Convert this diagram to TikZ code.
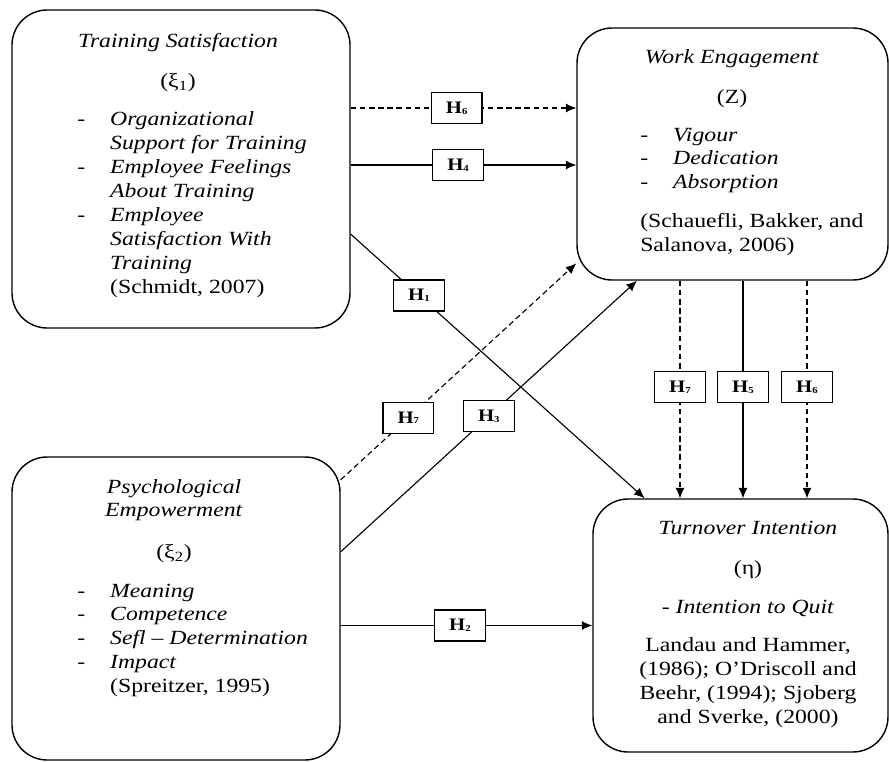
\documentclass[tikz,border=0pt]{standalone}
\usepackage{fontspec}
\setmainfont{Liberation Serif}[FakeStretch=1.18]
\usetikzlibrary{arrows.meta,fit,calc}

\newcommand{\hlab}[1]{\textbf{H}\raisebox{-.6pt}{\fontsize{6.5}{6.5}\selectfont\textbf{#1}}}

\tikzset{
  every node/.style={font=\fontsize{14.3}{17}\selectfont},
  txt/.style={inner sep=0pt},
  varbox/.style={draw,line width=1pt,rounded corners=25pt,inner sep=0pt},
  hbox/.style={draw,solid,fill=white,line width=.9pt,inner sep=0pt,
    minimum width=36pt,minimum height=22pt,font=\fontsize{12.5}{14}\selectfont},
  link/.style={line width=.8pt,-{Latex[length=7.5pt,width=6.5pt]}},
  dlink/.style={link,dash pattern=on 4pt off 2.5pt},
}

\begin{document}
\begin{tikzpicture}[x=0.025cm,y=-0.025cm]
\useasboundingbox (0,0) rectangle (889,762);

% the four variables
\node[varbox,fit={(12,10) (350,328)}] (ts) {};
\node[varbox,fit={(577,28) (888,280)}] (we) {};
\node[varbox,fit={(12,457) (340,760)}] (pe) {};
\node[varbox,fit={(593,499) (888,752)}] (ti) {};

% texts
\node[txt,anchor=base] (tshead) at (178,48) {\begin{tabular}[t]{@{}c@{}}
  \textit{Training Satisfaction}\\[11.4pt] (ξ\textsubscript{1})\end{tabular}};
\node[txt,anchor=base west] (tsbody) at (77,126) {\begin{tabular}[t]{@{}p{23.4pt}@{}l@{}}
  - & \textit{Organizational}\\
    & \textit{Support for Training}\\
  - & \textit{Employee Feelings}\\
    & \textit{About Training}\\
  - & \textit{Employee}\\
    & \textit{Satisfaction With}\\
    & \textit{Training}\\
    & (Schmidt, 2007)
  \end{tabular}};

\node[txt,anchor=base] (wehead) at (732,64) {\begin{tabular}[t]{@{}c@{}}
  \textit{Work Engagement}\\[11.4pt] (Z)\end{tabular}};
\node[txt,anchor=base west] (webody) at (640,141) {\begin{tabular}[t]{@{}p{23.4pt}@{}l@{}}
  - & \textit{Vigour}\\
  - & \textit{Dedication}\\
  - & \textit{Absorption}\\[10.6pt]
  \multicolumn{2}{@{}l@{}}{(Schauefli, Bakker, and}\\
  \multicolumn{2}{@{}l@{}}{Salanova, 2006)}
  \end{tabular}};

\node[txt,anchor=base] (pehead) at (174,493) {\begin{tabular}[t]{@{}c@{}}
  \textit{Psychological}\\ \textit{Empowerment}\\[12.8pt] (ξ\textsubscript{2})\end{tabular}};
\node[txt,anchor=base west] (pebody) at (77,597) {\begin{tabular}[t]{@{}p{23.4pt}@{}l@{}}
  - & \textit{Meaning}\\
  - & \textit{Competence}\\
  - & \textit{Sefl – Determination}\\
  - & \textit{Impact}\\
    & (Spreitzer, 1995)
  \end{tabular}};

\node[txt,anchor=base] (titext) at (748,534) {\begin{tabular}[t]{@{}c@{}}
  \textit{Turnover Intention}\\[12pt]
  (η)\\[10.7pt]
  - \textit{Intention to Quit}\\[10pt]
  Landau and Hammer,\\
  (1986); O’Driscoll and\\
  Beehr, (1994); Sjoberg\\
  and Sverke, (2000)
  \end{tabular}};

% hypotheses
\coordinate (rsix) at (0,108);
\coordinate (rfour) at (0,165);
\coordinate (csev) at (680,0);
\coordinate (cfive) at (743,0);
\coordinate (csix) at (807,0);

\draw[dlink] (ts.east |- rsix) -- node[hbox,pos=.47] (hsixa) {\hlab{6}} (we.west |- rsix);
\draw[link] (ts.east |- rfour) -- node[hbox,pos=.476] (hfour) {\hlab{4}} (we.west |- rfour);
\draw[link] (ts.-21.3) -- node[hbox,pos=.232] (hone) {\hlab{1}} (ti.127.6);
\draw[dlink] (pe.38.8) -- node[hbox,pos=.287] (hsevena) {\hlab{7}} (we.215.6);
\draw[link] (pe.19) -- node[hbox,pos=.5] (hthree) {\hlab{3}} (we.233.7);
\draw[link] (pe.east |- ti.west) -- node[hbox,pos=.474] (htwo) {\hlab{2}} (ti.west);
\draw[dlink] (csev |- we.south) -- node[hbox,pos=.49] (hsevenb) {\hlab{7}} (csev |- ti.north);
\draw[link] (cfive |- we.south) -- node[hbox,pos=.49] (hfive) {\hlab{5}} (cfive |- ti.north);
\draw[dlink] (csix |- we.south) -- node[hbox,pos=.49] (hsixb) {\hlab{6}} (csix |- ti.north);
\end{tikzpicture}
\end{document}
